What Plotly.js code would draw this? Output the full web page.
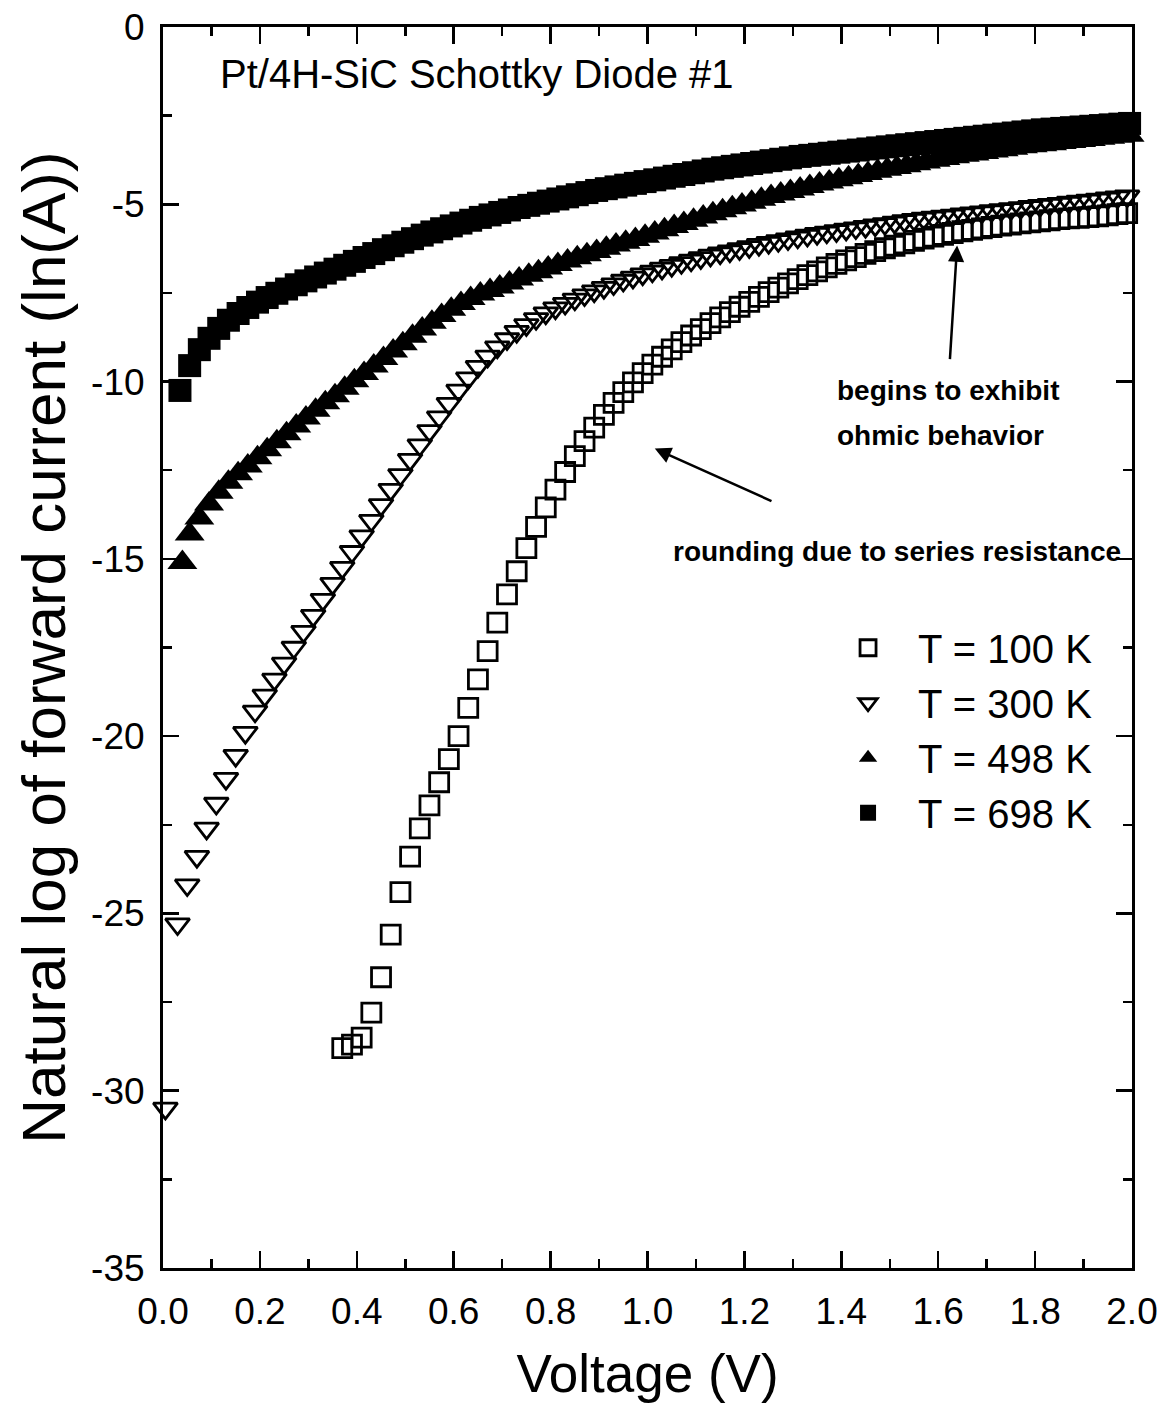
<!DOCTYPE html>
<html>
<head>
<meta charset="utf-8">
<script src="https://cdn.plot.ly/plotly-3.0.1.min.js"></script>
<style>
  html, body { margin: 0; padding: 0; background: #ffffff; }
  #chart { width: 1164px; height: 1417px; }
</style>
</head>
<body>
<div id="chart"></div>
<script>
// ---- Data ----
const seriesNames = ['T = 100 K', 'T = 300 K', 'T = 498 K', 'T = 698 K'];

const v100 = [0.37,0.39,0.41,0.43,0.45,0.47,0.49,0.51,0.53,0.55,
  0.57,0.59,0.61,0.63,0.65,0.67,0.69,0.71,0.73,0.75,
  0.77,0.79,0.81,0.83,0.85,0.87,0.89,0.91,0.93,0.95,
  0.97,0.99,1.01,1.03,1.05,1.07,1.09,1.11,1.13,1.15,
  1.17,1.19,1.21,1.23,1.25,1.27,1.29,1.31,1.33,1.35,
  1.37,1.39,1.41,1.43,1.45,1.47,1.49,1.51,1.53,1.55,
  1.57,1.59,1.61,1.63,1.65,1.67,1.69,1.71,1.73,1.75,
  1.77,1.79,1.81,1.83,1.85,1.87,1.89,1.91,1.93,1.95,
  1.97,1.99];
const ln100 = [-28.8,-28.7,-28.5,-27.8,-26.8,-25.6,-24.4,-23.4,-22.6,-21.95,
  -21.3,-20.65,-20.0,-19.2,-18.4,-17.6,-16.8,-16.0,-15.35,-14.7,
  -14.1,-13.55,-13.05,-12.55,-12.1,-11.68,-11.3,-10.94,-10.6,-10.3,
  -10.02,-9.76,-9.52,-9.3,-9.09,-8.89,-8.7,-8.52,-8.35,-8.19,
  -8.04,-7.89,-7.75,-7.61,-7.48,-7.35,-7.23,-7.11,-7.0,-6.89,
  -6.78,-6.68,-6.58,-6.49,-6.4,-6.32,-6.24,-6.17,-6.1,-6.03,
  -5.97,-5.91,-5.86,-5.81,-5.76,-5.72,-5.68,-5.64,-5.6,-5.57,
  -5.54,-5.51,-5.48,-5.45,-5.42,-5.4,-5.38,-5.36,-5.34,-5.31,
  -5.28,-5.25];

const v300 = [0.005,0.03,0.05,0.07,0.09,0.11,0.13,0.15,0.17,0.19,
  0.21,0.23,0.25,0.27,0.29,0.31,0.33,0.35,0.37,0.39,
  0.41,0.43,0.45,0.47,0.49,0.51,0.53,0.55,0.57,0.59,
  0.61,0.63,0.65,0.67,0.69,0.71,0.73,0.75,0.77,0.79,
  0.81,0.83,0.85,0.87,0.89,0.91,0.93,0.95,0.97,0.99,
  1.01,1.03,1.05,1.07,1.09,1.11,1.13,1.15,1.17,1.19,
  1.21,1.23,1.25,1.27,1.29,1.31,1.33,1.35,1.37,1.39,
  1.41,1.43,1.45,1.47,1.49,1.51,1.53,1.55,1.57,1.59,
  1.61,1.63,1.65,1.67,1.69,1.71,1.73,1.75,1.77,1.79,
  1.81,1.83,1.85,1.87,1.89,1.91,1.93,1.95,1.97,1.99];
const ln300 = [-30.5,-25.3,-24.2,-23.4,-22.6,-21.9,-21.2,-20.55,-19.9,-19.3,
  -18.85,-18.4,-17.95,-17.5,-17.05,-16.6,-16.15,-15.7,-15.25,-14.8,
  -14.36,-13.92,-13.48,-13.05,-12.63,-12.2,-11.79,-11.39,-11.0,-10.62,
  -10.25,-9.9,-9.58,-9.29,-9.03,-8.8,-8.59,-8.4,-8.23,-8.07,
  -7.93,-7.8,-7.68,-7.56,-7.45,-7.35,-7.25,-7.15,-7.06,-6.97,
  -6.89,-6.81,-6.73,-6.65,-6.58,-6.51,-6.44,-6.38,-6.32,-6.26,
  -6.2,-6.14,-6.08,-6.03,-5.98,-5.93,-5.88,-5.83,-5.79,-5.75,
  -5.71,-5.67,-5.63,-5.59,-5.55,-5.51,-5.47,-5.43,-5.4,-5.37,
  -5.34,-5.31,-5.28,-5.25,-5.22,-5.19,-5.16,-5.13,-5.1,-5.07,
  -5.04,-5.01,-4.98,-4.95,-4.92,-4.89,-4.86,-4.83,-4.8,-4.77];

const v498 = [0.04,0.055,0.075,0.095,0.115,0.135,0.155,0.175,0.195,0.215,
  0.235,0.255,0.275,0.295,0.315,0.335,0.355,0.375,0.395,0.415,
  0.435,0.455,0.475,0.495,0.515,0.535,0.555,0.575,0.595,0.615,
  0.635,0.655,0.675,0.695,0.715,0.735,0.755,0.775,0.795,0.815,
  0.835,0.855,0.875,0.895,0.915,0.935,0.955,0.975,0.995,1.015,
  1.035,1.055,1.075,1.095,1.115,1.135,1.155,1.175,1.195,1.215,
  1.235,1.255,1.275,1.295,1.315,1.335,1.355,1.375,1.395,1.415,
  1.435,1.455,1.475,1.495,1.515,1.535,1.555,1.575,1.595,1.615,
  1.635,1.655,1.675,1.695,1.715,1.735,1.755,1.775,1.795,1.815,
  1.835,1.855,1.875,1.895,1.915,1.935,1.955,1.975,1.995];
const ln498 = [-15.1,-14.3,-13.85,-13.45,-13.12,-12.84,-12.6,-12.38,-12.15,-11.92,
  -11.7,-11.47,-11.25,-11.03,-10.81,-10.6,-10.4,-10.19,-9.98,-9.77,
  -9.56,-9.35,-9.14,-8.93,-8.72,-8.52,-8.33,-8.14,-7.96,-7.8,
  -7.66,-7.53,-7.43,-7.33,-7.22,-7.11,-7.0,-6.9,-6.8,-6.7,
  -6.6,-6.51,-6.42,-6.33,-6.24,-6.15,-6.07,-5.99,-5.9,-5.81,
  -5.72,-5.63,-5.54,-5.45,-5.36,-5.27,-5.18,-5.1,-5.02,-4.94,
  -4.86,-4.78,-4.71,-4.64,-4.57,-4.5,-4.43,-4.37,-4.31,-4.25,
  -4.19,-4.13,-4.07,-4.01,-3.96,-3.91,-3.86,-3.81,-3.76,-3.71,
  -3.66,-3.62,-3.58,-3.54,-3.5,-3.46,-3.42,-3.38,-3.35,-3.32,
  -3.29,-3.26,-3.23,-3.2,-3.17,-3.14,-3.11,-3.08,-3.05];

const v698 = [0.035,0.055,0.075,0.095,0.115,0.135,0.155,0.175,0.195,0.215,
  0.235,0.255,0.275,0.295,0.315,0.335,0.355,0.375,0.395,0.415,
  0.435,0.455,0.475,0.495,0.515,0.535,0.555,0.575,0.595,0.615,
  0.635,0.655,0.675,0.695,0.715,0.735,0.755,0.775,0.795,0.815,
  0.835,0.855,0.875,0.895,0.915,0.935,0.955,0.975,0.995,1.015,
  1.035,1.055,1.075,1.095,1.115,1.135,1.155,1.175,1.195,1.215,
  1.235,1.255,1.275,1.295,1.315,1.335,1.355,1.375,1.395,1.415,
  1.435,1.455,1.475,1.495,1.515,1.535,1.555,1.575,1.595,1.615,
  1.635,1.655,1.675,1.695,1.715,1.735,1.755,1.775,1.795,1.815,
  1.835,1.855,1.875,1.895,1.915,1.935,1.955,1.975,1.995];
const ln698 = [-10.25,-9.55,-9.1,-8.78,-8.5,-8.27,-8.08,-7.91,-7.76,-7.63,
  -7.51,-7.39,-7.27,-7.16,-7.05,-6.94,-6.83,-6.72,-6.61,-6.5,
  -6.39,-6.28,-6.17,-6.07,-5.97,-5.87,-5.78,-5.69,-5.61,-5.53,
  -5.45,-5.37,-5.3,-5.23,-5.16,-5.09,-5.03,-4.97,-4.91,-4.85,
  -4.79,-4.73,-4.67,-4.61,-4.56,-4.51,-4.46,-4.41,-4.36,-4.31,
  -4.26,-4.21,-4.16,-4.11,-4.06,-4.01,-3.97,-3.93,-3.89,-3.85,
  -3.81,-3.77,-3.73,-3.69,-3.65,-3.62,-3.59,-3.56,-3.53,-3.5,
  -3.47,-3.44,-3.41,-3.38,-3.35,-3.32,-3.29,-3.26,-3.23,-3.2,
  -3.17,-3.14,-3.11,-3.08,-3.05,-3.02,-2.99,-2.96,-2.93,-2.9,
  -2.88,-2.86,-2.84,-2.82,-2.8,-2.78,-2.76,-2.74,-2.72];

const xTickVals = [0.0,0.2,0.4,0.6,0.8,1.0,1.2,1.4,1.6,1.8,2.0];
const xTickText = ['0.0','0.2','0.4','0.6','0.8','1.0','1.2','1.4','1.6','1.8','2.0'];
const yTickVals = [-35,-30,-25,-20,-15,-10,-5,0];
const yTickText = ['-35','-30','-25','-20','-15','-10','-5','0'];

const chartTitle = 'Pt/4H-SiC Schottky Diode #1';
const xTitle = 'Voltage (V)';
const yTitle = 'Natural log of forward current (ln(A))';
const note1a = 'begins to exhibit';
const note1b = 'ohmic behavior';
const note2 = 'rounding due to series resistance';

// ---- Styling ----
const FONT = '"Liberation Sans", Arial, Helvetica, sans-serif';
const INK = '#000000';

function trace(x, y, name, symbol, size, open) {
  return {
    type: 'scatter', mode: 'markers', x: x, y: y, name: name,
    cliponaxis: false,
    legendgroup: name,
    marker: open
      ? { symbol: symbol, size: size, color: INK, line: { color: INK, width: 2.8 } }
      : { symbol: symbol, size: size, color: INK, line: { color: INK, width: 0 } }
  };
}

const data = [
  trace(v100, ln100, seriesNames[0], 'square-open', 19, true),
  trace(v300, ln300, seriesNames[1], 'triangle-down-open', 21, true),
  trace(v498, ln498, seriesNames[2], 'triangle-up', 26, false),
  trace(v698, ln698, seriesNames[3], 'square', 23, false)
];

const axisCommon = {
  showline: true, linecolor: INK, linewidth: 3, mirror: 'allticks',
  ticks: 'inside', tickcolor: INK, tickwidth: 2.5,
  showgrid: false, zeroline: false,
  tickfont: { family: FONT, size: 37, color: INK },
  tickmode: 'array'
};

const layout = {
  width: 1164, height: 1417,
  margin: { l: 163, r: 32, t: 27, b: 149, pad: 0 },
  paper_bgcolor: '#ffffff', plot_bgcolor: '#ffffff',
  font: { family: FONT, color: INK },
  showlegend: true,
  legend: {
    x: 0.676, xanchor: 'left', y: 0.526, yanchor: 'top',
    bgcolor: 'rgba(0,0,0,0)', borderwidth: 0,
    font: { family: FONT, size: 40, color: INK },
    itemwidth: 90, traceorder: 'normal', tracegroupgap: 3
  },
  xaxis: Object.assign({}, axisCommon, {
    range: [0, 2], tickvals: xTickVals, ticktext: xTickText,
    ticklen: 17, ticklabelstandoff: 9,
    minor: { tick0: 0, dtick: 0.1, ticks: 'inside', ticklen: 9, tickwidth: 2.5, tickcolor: INK, showgrid: false },
    title: { text: xTitle, font: { family: FONT, size: 53, color: INK }, standoff: 24 }
  }),
  yaxis: Object.assign({}, axisCommon, {
    range: [-35, 0], tickvals: yTickVals, ticktext: yTickText,
    ticklen: 16, ticklabelstandoff: 8,
    minor: { tick0: 0, dtick: 2.5, ticks: 'inside', ticklen: 9, tickwidth: 2.5, tickcolor: INK, showgrid: false },
    title: { text: yTitle, font: { family: FONT, size: 62, color: INK }, standoff: 6 }
  }),
  annotations: [
    { x: 0.1135, y: -1.33, xref: 'x', yref: 'y', text: chartTitle, showarrow: false,
      xanchor: 'left', yanchor: 'middle', font: { family: FONT, size: 40, color: INK } },
    { x: 1.387, y: -10.25, xref: 'x', yref: 'y', text: note1a, showarrow: false,
      xanchor: 'left', yanchor: 'middle', font: { family: FONT, size: 28, color: INK, weight: 'bold' } },
    { x: 1.387, y: -11.53, xref: 'x', yref: 'y', text: note1b, showarrow: false,
      xanchor: 'left', yanchor: 'middle', font: { family: FONT, size: 28, color: INK, weight: 'bold' } },
    { x: 1.0485, y: -14.8, xref: 'x', yref: 'y', text: note2, showarrow: false,
      xanchor: 'left', yanchor: 'middle', font: { family: FONT, size: 28, color: INK, weight: 'bold' } },
    { x: 1.639, y: -6.16, xref: 'x', yref: 'y', ax: 1.624, ay: -9.41, axref: 'x', ayref: 'y',
      text: '', showarrow: true, arrowhead: 2, arrowsize: 1.3, arrowwidth: 2.5, arrowcolor: INK, standoff: 0 },
    { x: 1.015, y: -11.89, xref: 'x', yref: 'y', ax: 1.259, ay: -13.39, axref: 'x', ayref: 'y',
      text: '', showarrow: true, arrowhead: 2, arrowsize: 1.3, arrowwidth: 2.5, arrowcolor: INK, standoff: 0 }
  ]
};

Plotly.newPlot('chart', data, layout, { staticPlot: true, displayModeBar: false });
</script>
</body>
</html>
